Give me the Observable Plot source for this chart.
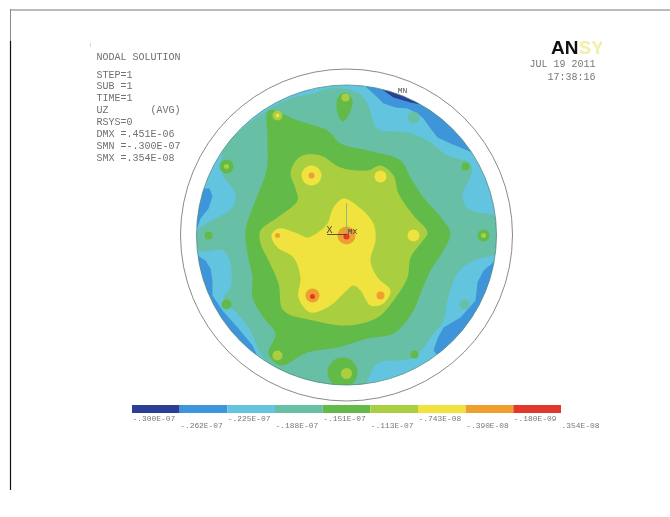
<!DOCTYPE html>
<html>
<head>
<meta charset="utf-8">
<script src="https://cdn.jsdelivr.net/npm/d3@7"></script>
<script src="https://cdn.jsdelivr.net/npm/@observablehq/plot@0.6"></script>
<style>
html,body{margin:0;padding:0;background:#fff}
svg{display:block;filter:blur(0.5px)}
</style>
</head>
<body>
<div id="chart"></div>
<script>
// Contour level edges and band colours
const levels = [-.300e-7,-.262e-7,-.225e-7,-.188e-7,-.151e-7,-.113e-7,-.743e-8,-.390e-8,-.180e-9,.354e-8];
const levelLabels = ["-.300E-07","-.262E-07","-.225E-07","-.188E-07","-.151E-07","-.113E-07","-.743E-08","-.390E-08","-.180E-09",".354E-08"];
const bandColors = ["#2c3f96","#3f95d9","#62c4de","#67bfa6","#62bb48","#a9cf40","#f1e33f","#ee9f30","#e2382c"];

// Band outlines: [band index, outline, curve]
const blueTopRight = [[365,86],[376,96],[383,103],[395,107],[407,108],[417,113],[423,118],[430,128],[437,137],[450,143],[467,150],[478,155],[462,125],[425,95],[390,78],[365,78]];
const navyTop = [[380,88],[393,97],[410,102],[420,104],[425,95],[395,78],[375,78]];
const blueLeftUpper = [[209,188],[212,196],[208,208],[200,218],[197,227],[190,225],[195,188]];
const blueLeftLower = [[197,255],[205,260],[210,268],[212,280],[212,295],[222,310],[238,328],[252,345],[258,358],[240,350],[205,310],[190,270]];
const blueRightLower = [[495,260],[483,270],[477,282],[475,300],[460,317],[443,327],[437,338],[433,350],[437,355],[450,345],[480,310],[497,270]];
const tealBand = [[223,148],[243,127],[267,110],[290,98],[313,93],[330,88],[357,92],[367,103],[377,128],[407,132],[427,140],[447,155],[470,163],[470,177],[462,193],[467,208],[497,217],[502,235],[497,252],[473,260],[457,273],[447,300],[443,320],[433,333],[413,357],[377,363],[367,380],[363,390],[323,390],[277,370],[260,353],[250,330],[237,313],[223,298],[230,287],[230,263],[223,250],[198,250],[195,233],[200,227],[217,217],[232,207],[235,193],[223,175]];
const greenBand = [[268,110],[297,120],[327,130],[340,143],[367,150],[400,160],[410,177],[423,197],[443,220],[450,233],[443,250],[430,270],[420,293],[412,312],[393,333],[367,338],[337,347],[307,352],[280,365],[268,353],[275,333],[263,317],[252,297],[252,277],[247,253],[245,230],[255,200],[266,170],[267,137]];
const greenTopBlob = [[345,92],[352,100],[348,115],[342,121],[337,113],[337,98]];
const limeBand = [[290,172],[300,156],[320,155],[340,167],[367,170],[380,165],[393,175],[398,193],[413,215],[427,232],[420,243],[410,257],[407,277],[393,300],[377,317],[347,325],[313,320],[283,310],[278,283],[268,260],[260,243],[260,230],[277,217],[297,200],[295,188]];
const yellowBand = [[343,198],[360,208],[373,223],[375,240],[370,260],[377,277],[390,290],[383,303],[370,305],[360,290],[353,285],[343,293],[330,305],[310,312],[298,297],[300,277],[293,257],[277,247],[271,235],[278,228],[297,233],[307,237],[320,230],[327,223],[333,207]];

const regions = [
  [3,tealBand,"catmull-rom-closed"],[1,blueTopRight,"linear-closed"],[0,navyTop,"linear-closed"],[1,blueLeftUpper,"linear-closed"],[1,blueLeftLower,"linear-closed"],[1,blueRightLower,"linear-closed"],
  [4,greenBand,"catmull-rom-closed"],[4,greenTopBlob,"catmull-rom-closed"],[5,limeBand,"catmull-rom-closed"],[6,yellowBand,"catmull-rom-closed"]
];

// Local peaks at the supports: x, y, size, band
const spots = [
  [342,372,15,4],[346,373,5.5,5],
  [345,97,4,5],[277,115,5,5],[277,115,2,6],
  [226,166,7,4],[226,166,2.5,5],
  [465,166,4,4],[413,117,6,3],
  [208,235,4,4],[483,235,6,4],[483,235,2.5,5],
  [226,304,5,4],[464,304,5,3],[277,355,5,5],[414,354,4,4],
  [311,175,10,6],[311,175,3,7],
  [380,176,6,6],[413,235,6,6],
  [277,235,2.5,7],
  [346,235,9,7],[346,236,3,8],
  [312,295,7,7],[312,296,2.5,8],
  [380,295,4,7]
];

// Notes
const headerLines = ["NODAL SOLUTION","STEP=1","SUB =1","TIME=1","UZ       (AVG)","RSYS=0","DMX =.451E-06","SMN =-.300E-07","SMX =.354E-08"];
const headerRows = [56,74,85.5,97,109,121,133.5,145,157];
const dateLines = ["JUL 19 2011","17:38:16"];
const dateRows = [63,76];

// Disc
const centre = [346,234.5];
const discR = 150, ringR = 166;

// Legend frame in picture units
const legendLeft = 132, legendStep = 47.67, legendTop = 405, legendBottom = 413, legendRow1 = 417.5, legendRow2 = 425;

const mono = "'Liberation Mono','DejaVu Sans Mono',monospace";
const band = i => levels[i];
const rows = [centre];

const marks = [
  // page frame
  Plot.ruleY([9.5],{x1:10,x2:670,stroke:"#777",strokeWidth:1}),
  Plot.ruleX([10],{y1:9,y2:41,stroke:"#888",strokeWidth:1}),
  Plot.ruleX([10],{y1:41,y2:490,stroke:"#111",strokeWidth:1.2}),
  Plot.ruleX([90],{y1:43,y2:47,stroke:"#bfe3df",strokeWidth:1}),
  // base of disc
  Plot.dot(rows,{x:d=>d[0],y:d=>d[1],r:discR,fill:()=>band(2),stroke:"none"}),
  ...regions.map(([b,pts,c]) => Plot.line(pts,{x:d=>d[0],y:d=>d[1],fill:()=>band(b),stroke:"none",curve:c})),
  Plot.dot(spots,{x:d=>d[0],y:d=>d[1],r:d=>d[2],fill:d=>band(d[3]),stroke:"none"}),
  // annulus mask and outlines
  Plot.dot(rows,{x:d=>d[0],y:d=>d[1],r:discR+8,fill:"none",stroke:"#fff",strokeWidth:16}),
  Plot.dot(rows,{x:d=>d[0],y:d=>d[1],r:discR,fill:"none",stroke:"#4d8a80",strokeWidth:0.8}),
  Plot.dot(rows,{x:d=>d[0],y:d=>d[1],r:ringR,fill:"none",stroke:"#8a8a8a",strokeWidth:1}),
  // triad
  Plot.ruleX([346],{y1:203,y2:234,stroke:"#7fae8a",strokeWidth:0.8}),
  Plot.ruleY([234],{x1:327,x2:346,stroke:"#333",strokeWidth:0.8}),
  Plot.text(["X"],{x:329,y:229,fontFamily:mono,fontSize:10,fill:"#444"}),
  Plot.text(["MX"],{x:352,y:231,fontFamily:mono,fontSize:8,fill:"#444"}),
  Plot.text(["MN"],{x:402,y:89.5,fontFamily:mono,fontSize:8,fill:"#555"}),
  // notes
  Plot.text(headerLines,{x:96,y:(d,i)=>headerRows[i],text:d=>d,textAnchor:"start",fontFamily:mono,fontSize:10,fill:"#6f6f6f"}),
  Plot.text(dateLines,{x:595,y:(d,i)=>dateRows[i],text:d=>d,textAnchor:"end",fontFamily:mono,fontSize:10,fill:"#777"}),
  // logo
  Plot.text(["AN"],{x:578,y:47,textAnchor:"end",fontFamily:"'Liberation Sans',sans-serif",fontWeight:"bold",fontSize:19,fill:"#111"}),
  Plot.text(["SYS"],{x:578,y:47,textAnchor:"start",fontFamily:"'Liberation Sans',sans-serif",fontWeight:"bold",fontSize:19,fill:"#f2efa8"}),
  Plot.rect([0],{x1:602,x2:625,y1:38,y2:56,fill:"#fff"}),
  // legend
  Plot.rect(levels.slice(0,-1),{x1:(d,i)=>legendLeft+i*legendStep,x2:(d,i)=>legendLeft+(i+1)*legendStep,y1:legendTop,y2:legendBottom,fill:d=>d}),
  Plot.text(levelLabels,{x:(d,i)=>legendLeft+i*legendStep,y:(d,i)=>i%2?legendRow2:legendRow1,text:d=>d,textAnchor:"start",fontFamily:mono,fontSize:7.9,fill:"#777"})
];

const plot = Plot.plot({
  width:670,height:517,margin:0,
  style:{background:"#fff"},
  x:{domain:[0,670],range:[0,670],axis:null},
  y:{domain:[0,517],range:[0,517],axis:null},
  r:{type:"identity"},
  color:{type:"threshold",domain:levels.slice(1,-1),range:bandColors},
  marks
});
document.getElementById("chart").append(plot);
</script>
</body>
</html>
